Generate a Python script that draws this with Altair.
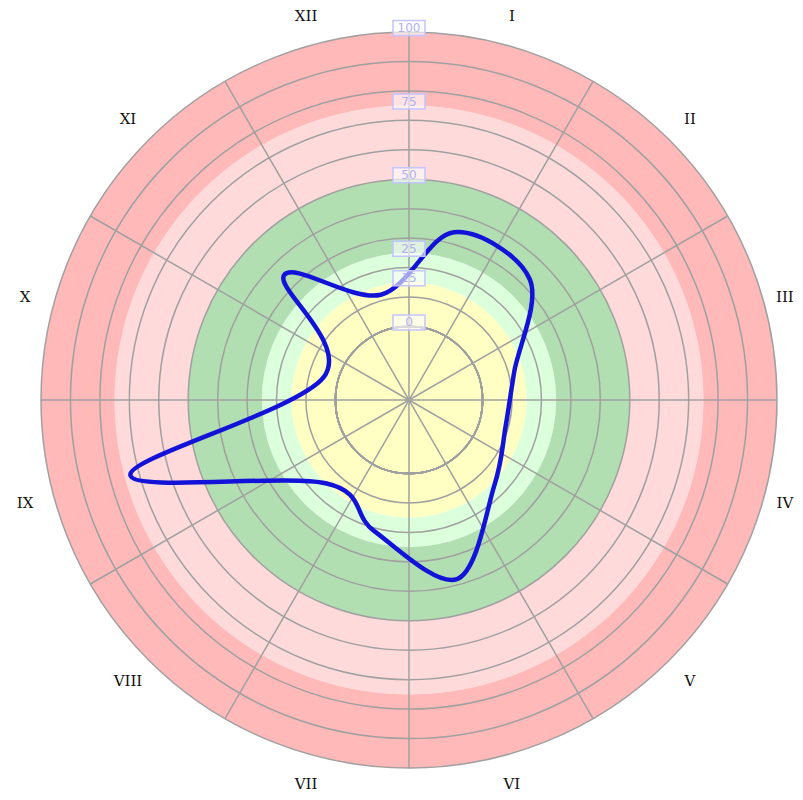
import math
import altair as alt
import pandas as pd

# ---- data ----
categories = ["I", "II", "III", "IV", "V", "VI", "VII", "VIII", "IX", "X", "XI", "XII"]
values = [34, 33, 12, 9, 16, 38, 21, 15, 73, 5, 35, 12]

band_lo = [-25, 15, 25, 50, 75]
band_hi = [15, 25, 50, 75, 100]
band_colors = ["#ffffc4", "#dcffdc", "#b2dfb2", "#ffdada", "#ffb9b9"]

grid_values = [0, 10, 20, 30, 40, 50, 60, 70, 80, 90, 100]
spoke_angles = [0, 30, 60, 90, 120, 150, 180, 210, 240, 270, 300, 330]
radial_labels = [0, 15, 25, 50, 75, 100]

# ---- geometry ----
R = 368            # outer radius in px
OFF = 25           # radial scale starts at -25
MAXV = 100
EXT = MAXV + OFF
LABEL_V = 110      # radial position of the category labels
TWO_PI = 2 * math.pi

x_scale = alt.Scale(domain=[-EXT, EXT], nice=False, zero=False)
y_scale = alt.Scale(domain=[-EXT, EXT], nice=False, zero=False)
r_scale = alt.Scale(type="linear", domain=[-OFF, MAXV], range=[0, R], zero=False, nice=False)

bands_df = pd.DataFrame({"lo": band_lo, "hi": band_hi, "color": band_colors})
bands = alt.Chart(bands_df).mark_arc(theta=0, theta2=TWO_PI).encode(
    radius=alt.Radius("hi:Q", scale=r_scale, stack=False),
    radius2="lo:Q",
    fill=alt.Fill("color:N", scale=None),
)

grid = alt.Chart(pd.DataFrame({"v": grid_values})).mark_arc(
    theta=0, theta2=TWO_PI, filled=False, fillOpacity=0,
    stroke="#a0a0a0", strokeWidth=1.5,
).encode(radius=alt.Radius("v:Q", scale=r_scale, stack=False))

spokes = alt.Chart(pd.DataFrame({"a": spoke_angles})).transform_calculate(
    x0="0",
    y0="0",
    x1=f"{EXT}*sin(datum.a*PI/180)",
    y1=f"{EXT}*cos(datum.a*PI/180)",
).mark_rule(stroke="#a0a0a0", strokeWidth=1.5).encode(
    x=alt.X("x0:Q", scale=x_scale, axis=None),
    y=alt.Y("y0:Q", scale=y_scale, axis=None),
    x2="x1:Q",
    y2="y1:Q",
)

line_df = pd.DataFrame({"cat": categories, "value": values, "idx": list(range(len(categories)))})
line = alt.Chart(line_df).transform_calculate(
    ang="(15 + 30*datum.idx)*PI/180"
).transform_calculate(
    px=f"(datum.value + {OFF})*sin(datum.ang)",
    py=f"(datum.value + {OFF})*cos(datum.ang)",
).mark_line(interpolate="cardinal-closed", color="#1212d8", strokeWidth=4.5).encode(
    x=alt.X("px:Q", scale=x_scale, axis=None),
    y=alt.Y("py:Q", scale=y_scale, axis=None),
    order=alt.Order("idx:Q"),
)

rl_df = pd.DataFrame({"v": radial_labels, "label": [str(v) for v in radial_labels]})
BOX = "M-1,-0.47L1,-0.47L1,0.47L-1,0.47Z"
boxes = alt.Chart(rl_df).transform_calculate(
    px="0", py=f"datum.v + {OFF}"
).mark_point(
    shape=BOX, size=1024, filled=True, fill="white", fillOpacity=0.6,
    stroke="#c4c4ff", strokeWidth=1.5, opacity=1, yOffset=-4,
).encode(
    x=alt.X("px:Q", scale=x_scale, axis=None),
    y=alt.Y("py:Q", scale=y_scale, axis=None),
)
rtexts = alt.Chart(rl_df).transform_calculate(
    px="0", py=f"datum.v + {OFF}"
).mark_text(
    font="DejaVu Sans", fontSize=12, color="#b0b0f0", baseline="alphabetic", align="center",
).encode(
    x=alt.X("px:Q", scale=x_scale, axis=None),
    y=alt.Y("py:Q", scale=y_scale, axis=None),
    text="label:N",
)

cat_base = alt.Chart(line_df).transform_calculate(
    ang="(15 + 30*datum.idx)*PI/180"
).transform_calculate(
    px=f"({LABEL_V} + {OFF})*sin(datum.ang)",
    py=f"({LABEL_V} + {OFF})*cos(datum.ang)",
)
cat_enc = dict(
    x=alt.X("px:Q", scale=x_scale, axis=None),
    y=alt.Y("py:Q", scale=y_scale, axis=None),
    text="cat:N",
)
cat_style = dict(font="DejaVu Serif", fontSize=15, color="#111111", baseline="middle")
# labels near the right page edge are nudged inward so they stay visible
cat_labels = cat_base.transform_filter("datum.px < 120").mark_text(align="center", **cat_style).encode(**cat_enc)
cat_labels_edge = cat_base.transform_filter("datum.px >= 120").mark_text(align="center", dx=-8, **cat_style).encode(**cat_enc)

chart = alt.layer(bands, grid, spokes, line, boxes, rtexts, cat_labels, cat_labels_edge).properties(
    width=2 * R,
    height=2 * R,
    autosize=alt.AutoSizeParams(type="none"),
    padding={"left": 33, "top": 24, "right": 18, "bottom": 24},
    background="white",
).configure_view(strokeWidth=0)

chart.save("out.html", embed_options={"renderer": "svg", "actions": False})
